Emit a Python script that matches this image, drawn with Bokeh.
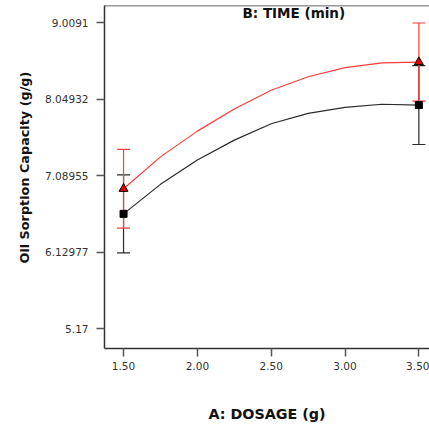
import math
from bokeh.plotting import figure
from bokeh.models import (ColumnDataSource, Whisker, TeeHead, FixedTicker, Label, Span, Range1d, Title)
from bokeh.embed import file_html
from bokeh.resources import INLINE

# ---- data ----
dosage_pts = [1.5, 3.5]
black_mean = [6.61, 7.975]
black_err = [0.49, 0.495]
red_mean = [6.925, 8.515]
red_err = [0.495, 0.49]

curve_x = [1.5, 1.75, 2.0, 2.25, 2.5, 2.75, 3.0, 3.25, 3.5]
red_curve = [6.925, 7.325, 7.648, 7.925, 8.161, 8.33, 8.445, 8.505, 8.515]
black_curve = [6.61, 6.98, 7.285, 7.535, 7.74, 7.87, 7.945, 7.985, 7.975]

x_ticks = [1.5, 2.0, 2.5, 3.0, 3.5]
x_tick_labels = ["1.50", "2.00", "2.50", "3.00", "3.50"]
y_ticks = [5.17, 6.12977, 7.08955, 8.04932, 9.0091]
y_tick_labels = ["5.17", "6.12977", "7.08955", "8.04932", "9.0091"]

title_text = "B: TIME (min)"
x_title = "A: DOSAGE (g)"
y_title = "Oil Sorption Capacity (g/g)"

FONT = "DejaVu Sans"
RED = "#ff3b3b"
BLACK = "#2a2a2a"

p = figure(width=429, height=427, output_backend="svg", toolbar_location=None,
           x_range=Range1d(1.371, 3.572), y_range=Range1d(4.9206, 9.2243),
           min_border_left=104, min_border_right=0, min_border_top=5, min_border_bottom=79)
p.outline_line_color = None
p.grid.visible = False
p.background_fill_color = "white"

for ax in (p.xaxis[0], p.yaxis[0]):
    ax.axis_line_color = "#333333"
    ax.axis_line_width = 1.5
    ax.major_tick_line_color = "#555555"
    ax.major_tick_line_width = 1.5
    ax.major_tick_in = 0
    ax.major_tick_out = 8
    ax.minor_tick_line_color = None
    ax.major_label_text_font = FONT
    ax.major_label_text_font_size = "10.5px"
    ax.major_label_text_color = "#333333"

p.xaxis.ticker = FixedTicker(ticks=x_ticks)
p.xaxis.major_label_overrides = {t: l for t, l in zip(x_ticks, x_tick_labels)}
p.xaxis.major_label_standoff = 5
p.xaxis.axis_label = x_title
p.xaxis.axis_label_text_font = FONT
p.xaxis.axis_label_text_font_style = "bold"
p.xaxis.axis_label_text_font_size = "14.3px"
p.xaxis.axis_label_text_color = "#111111"
p.xaxis.axis_label_standoff = 33
p.yaxis.ticker = FixedTicker(ticks=y_ticks)
p.yaxis.major_label_overrides = {t: l for t, l in zip(y_ticks, y_tick_labels)}
p.yaxis.major_label_standoff = 8

# top border
p.add_layout(Span(location=9.2243, dimension="width", line_color="#333333", line_width=1.5))

# curves
p.line(curve_x, black_curve, line_color=BLACK, line_width=1.2)
p.line(curve_x, red_curve, line_color=RED, line_width=1.2)

# error bars
bsrc = ColumnDataSource(dict(x=dosage_pts,
                             upper=[m + e for m, e in zip(black_mean, black_err)],
                             lower=[m - e for m, e in zip(black_mean, black_err)]))
rsrc = ColumnDataSource(dict(x=dosage_pts,
                             upper=[m + e for m, e in zip(red_mean, red_err)],
                             lower=[m - e for m, e in zip(red_mean, red_err)]))
p.add_layout(Whisker(source=bsrc, base="x", upper="upper", lower="lower",
                     line_color=BLACK, line_width=1.2,
                     upper_head=TeeHead(size=13, line_color=BLACK, line_width=1.2),
                     lower_head=TeeHead(size=13, line_color=BLACK, line_width=1.2)))
p.add_layout(Whisker(source=rsrc, base="x", upper="upper", lower="lower",
                     line_color=RED, line_width=1.2,
                     upper_head=TeeHead(size=13, line_color=RED, line_width=1.2),
                     lower_head=TeeHead(size=13, line_color=RED, line_width=1.2)))

# markers
p.scatter(dosage_pts, black_mean, marker="square", size=7, fill_color="black", line_color="black")
p.scatter(dosage_pts, red_mean, marker="triangle", size=9, fill_color="#e00000", line_color="black", line_width=1)

# texts
p.add_layout(Label(x=2.653, y=9.135, text=title_text, text_font=FONT, text_font_style="bold",
                   text_font_size="13.5px", text_align="center", text_baseline="middle", text_color="#111111"))
p.add_layout(Title(text=y_title, text_font=FONT, text_font_style="bold", text_font_size="12.8px",
                   align="left", offset=85, standoff=22, text_color="#111111"), "left")

open("out.html", "w").write(file_html(p, INLINE))
